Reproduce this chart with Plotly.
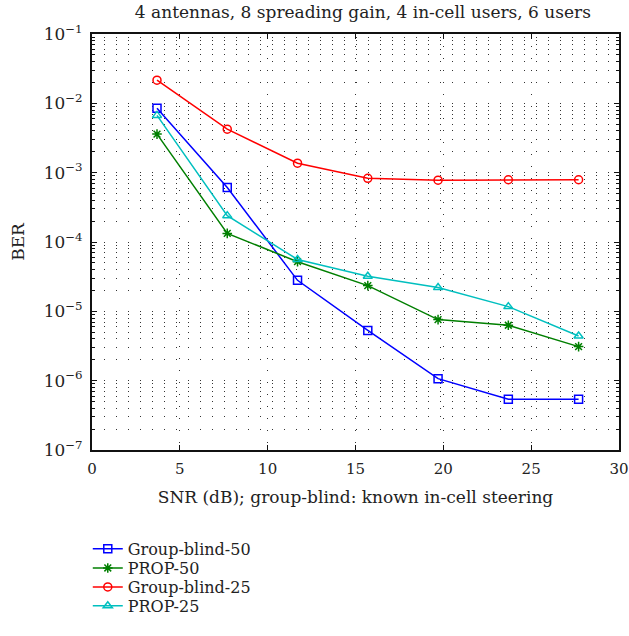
import plotly.graph_objects as go

snr = [3.7, 7.7, 11.7, 15.7, 19.7, 23.7, 27.7]
gb50 = [8.5e-3, 6.1e-4, 2.8e-5, 5.3e-6, 1.07e-6, 5.4e-7, 5.4e-7]
prop50 = [3.6e-3, 1.33e-4, 5.2e-5, 2.35e-5, 7.6e-6, 6.3e-6, 3.1e-6]
gb25 = [2.16e-2, 4.24e-3, 1.37e-3, 8.3e-4, 7.8e-4, 7.9e-4, 7.9e-4]
prop25 = [6.7e-3, 2.4e-4, 5.6e-5, 3.2e-5, 2.2e-5, 1.17e-5, 4.4e-6]

series = [
    ("Group-blind-50", gb50, "#0000ff", "square-open"),
    ("PROP-50", prop50, "#007f00", "asterisk-open"),
    ("Group-blind-25", gb25, "#ff0000", "circle-open"),
    ("PROP-25", prop25, "#00bfbf", "triangle-up-open"),
]
legend_ids = ["legend", "legend2", "legend3", "legend4"]
legend_y = [-0.197, -0.243, -0.2885, -0.334]

font_family = "DejaVu Serif"
txt = "#222222"
dots = "1px,11px"

fig = go.Figure()
for (name, ys, col, sym), lid in zip(series, legend_ids):
    fig.add_trace(go.Scatter(
        x=snr, y=ys, name=name, mode="lines+markers", legend=lid,
        line=dict(color=col, width=1.5),
        marker=dict(symbol=sym, size=8, color=col, line=dict(color=col, width=1.5)),
    ))

legend_common = dict(x=-0.008, xanchor="left", yanchor="top",
                     bgcolor="rgba(0,0,0,0)", font=dict(size=16, color=txt),
                     itemwidth=30)
layout_legends = {lid: dict(y=ly, **legend_common) for lid, ly in zip(legend_ids, legend_y)}

fig.update_layout(
    width=629, height=636,
    margin=dict(l=92, r=10, t=34, b=186),
    paper_bgcolor="white", plot_bgcolor="white",
    font=dict(family=font_family, size=15, color=txt),
    title=dict(text="4 antennas, 8 spreading gain, 4 in-cell users, 6 users",
               x=0.514, xref="paper", xanchor="center", y=0.981, yanchor="middle",
               font=dict(size=17)),
    showlegend=True,
    **layout_legends,
)

fig.update_xaxes(
    range=[0, 30], dtick=5, tick0=0, automargin=False,
    showline=True, linecolor="#111111", linewidth=1.5, mirror="ticks",
    ticks="inside", ticklen=5, tickcolor="#111111",
    showgrid=True, gridcolor="#333333", gridwidth=1, griddash=dots,
    zeroline=False, ticklabelstandoff=4,
    title=dict(text="SNR (dB); group-blind: known in-cell steering", standoff=14,
               font=dict(size=17)),
    tickfont=dict(size=15),
)
fig.update_yaxes(
    type="log", range=[-7, -1], dtick=1, automargin=False,
    exponentformat="power", showexponent="all",
    showline=True, linecolor="#111111", linewidth=1.5, mirror="ticks",
    ticks="inside", ticklen=5, tickcolor="#111111",
    showgrid=True, gridcolor="#333333", gridwidth=1, griddash=dots,
    minor=dict(ticks="inside", ticklen=3, tickcolor="#111111",
               showgrid=True, gridcolor="#333333", gridwidth=1, griddash=dots),
    zeroline=False, ticklabelstandoff=5,
    title=dict(text="BER", standoff=15, font=dict(size=17)),
    tickfont=dict(size=13.5),
)

fig.write_html("out.html", config={"displayModeBar": False},
               post_script="document.body.style.margin='0';document.body.style.overflow='hidden';")
